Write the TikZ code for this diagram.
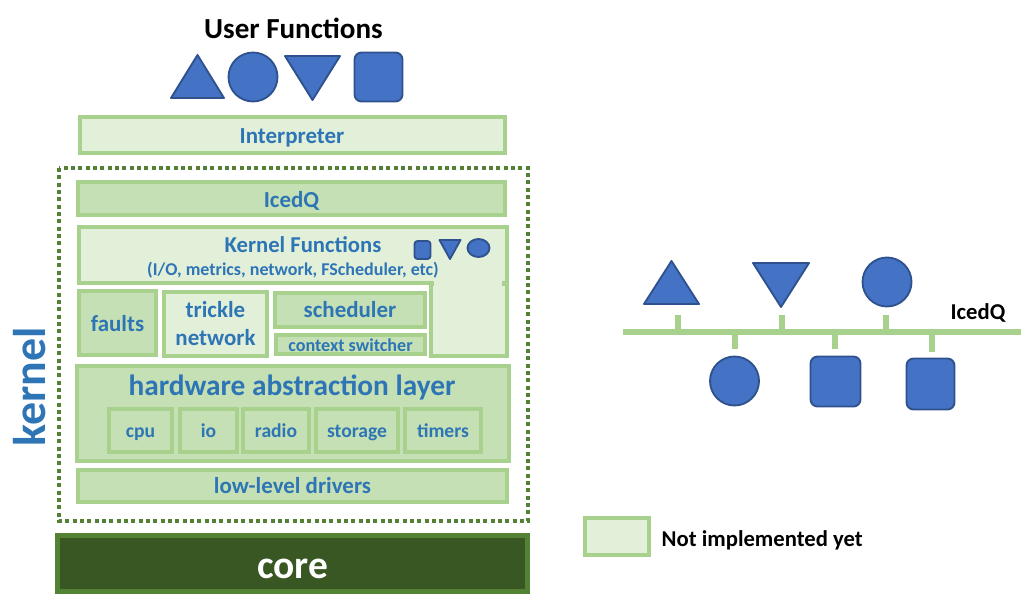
\documentclass[tikz,border=0pt]{standalone}
\usepackage{fontspec}
\usetikzlibrary{shapes.geometric}
\setmainfont{Carlito}
\definecolor{edgegreen}{HTML}{A9D18E}
\definecolor{lightgreen}{HTML}{E2F0D9}
\definecolor{midgreen}{HTML}{C5E0B4}
\definecolor{dotgreen}{HTML}{548235}
\definecolor{coregreen}{HTML}{385723}
\definecolor{labelblue}{HTML}{2E75B6}
\definecolor{shapeblue}{HTML}{4472C4}
\definecolor{shapeedge}{HTML}{2F528F}
\newcommand{\fs}[1]{\fontsize{#1}{#1}\selectfont\bfseries}
\tikzset{
  layerbox/.style={draw=edgegreen,line width=3pt,inner sep=0pt,text=labelblue,font=\fs{17.2}},
  lightbox/.style={layerbox,fill=lightgreen},
  midbox/.style={layerbox,fill=midgreen},
  onebase/.style={text height=#1,text depth=0pt},
  fnshape/.style={draw=shapeedge,line width=1.4pt,fill=shapeblue,line join=round},
  busline/.style={draw=edgegreen,line width=5.2pt},
}
\begin{document}
\begin{tikzpicture}[x=0.75pt,y=-0.75pt]
\useasboundingbox (0,0) rectangle (1030,603);
\node[font=\fs{21.8}] (userfn) at (293.5,28) {User Functions};
\foreach \n/\x/\y/\w/\h/\b/\t in {interp/292/134.5/425/36/14pt/Interpreter,kfuncs/292.5/255/428/56/8pt/{},extra/469/320/76/72/8pt/{},legend/617/536.5/64/37/8pt/{}}
  \node[lightbox,onebase=\b,minimum width=\w*0.75pt,minimum height=\h*0.75pt] (\n) at (\x,\y) {\t};
\fill[lightgreen] (434,278) rectangle (502,286);
\foreach \n/\x/\y/\w/\h/\b/\t in {icedq/291.5/198.5/427/33/14pt/IcedQ,faults/117.5/323/77/64/12.5pt/faults,sched/350/310/150/34/11pt/scheduler,lowlevel/292.5/486/429/32/11pt/low-level drivers}
  \node[midbox,onebase=\b,minimum width=\w*0.75pt,minimum height=\h*0.75pt] (\n) at (\x,\y) {\t};
\node[lightbox,minimum width=103*0.75pt,minimum height=64*0.75pt,align=center] (trickle) at (215.5,323.5) {trickle\\[3.5pt]network};
\node[midbox,onebase=10.3pt,minimum width=149*0.75pt,minimum height=19*0.75pt,font=\fs{13.6}] (ctxsw) at (350.5,344.5) {context switcher};
\node[midbox,minimum width=432*0.75pt,minimum height=95*0.75pt] (hal) at (293,413.5) {};
\node[text=labelblue,font=\fs{22}] (haltitle) at (292,387) {hardware abstraction layer};
\foreach \n/\x/\w/\t in {cpu/140.5/63/cpu,io/208.5/57/io,radio/276/66/radio,storage/357/82/storage,timers/443/76/timers}
  \node[midbox,onebase=10pt,minimum width=\w*0.75pt,minimum height=43*0.75pt,font=\fs{14.7}] (\n) at (\x,430.5) {\t};
\node[text=labelblue,font=\fs{17}] (kftitle) at (303,245) {Kernel Functions};
\node[text=labelblue,font=\fs{13.5}] (kfsub) at (293,270) {(I/O, metrics, network, FScheduler, etc)};
\draw[dotgreen,line width=3pt,dash pattern=on 3pt off 2.5pt] (59,168) rectangle (528,521);
\node[draw=dotgreen,line width=3.75pt,fill=coregreen,text=white,font=\fs{29.6},onebase=22.5pt,minimum width=470*0.75pt,minimum height=56*0.75pt,inner sep=0pt] (core) at (292.5,563.5) {core};
\node[rotate=90,text=labelblue,font=\fs{34.4}] (kernel) at (30,387) {kernel};
\node[font=\fs{17},anchor=west] (legendtext) at (657,540) {Not implemented yet};
\foreach \x/\y/\w/\h in {197.5/55/53/43,671.5/261/55/43}
  \draw[fnshape] (\x,\y) -- (\x+\w/2,\y+\h) -- (\x-\w/2,\y+\h) -- cycle;
\foreach \x/\y/\w/\h in {312.5/56/55/44,450/240/21/19,781/263/56/44}
  \draw[fnshape] (\x,\y+\h) -- (\x+\w/2,\y) -- (\x-\w/2,\y) -- cycle;
\foreach \n/\x/\y in {topcirc/253/77,busup/887/282,buslow/734.5/381}
  \node[fnshape,circle,inner sep=0pt,minimum size=49*0.75pt] (\n) at (\x,\y) {};
\node[fnshape,ellipse,inner sep=0pt,minimum width=22*0.75pt,minimum height=18*0.75pt] (kfell) at (478.5,248) {};
\foreach \n/\x/\y/\w/\h/\r in {topsq/378.5/77/48/49/7,kfsq/422.5/250/16/18/3,bussqa/835.5/381.5/50/50/7,bussqb/930.5/384/48/51/7}
  \node[fnshape,rounded corners=\r*0.75pt,inner sep=0pt,minimum width=\w*0.75pt,minimum height=\h*0.75pt] (\n) at (\x,\y) {};
\coordinate (busl) at (623,332);
\coordinate (busr) at (1021,332);
\draw[busline] (busl) -- (busr);
\foreach \n/\x/\e in {a/678/315,b/782/315,c/886/315,d/735/348.5,e/835/348.5,f/932/352}{
  \coordinate (stub\n) at (\x,\e);
  \draw[busline] (stub\n) -- (stub\n |- busl);
}
\node[font=\fs{17}] (buslabel) at (978,313) {IcedQ};
\end{tikzpicture}
\end{document}
